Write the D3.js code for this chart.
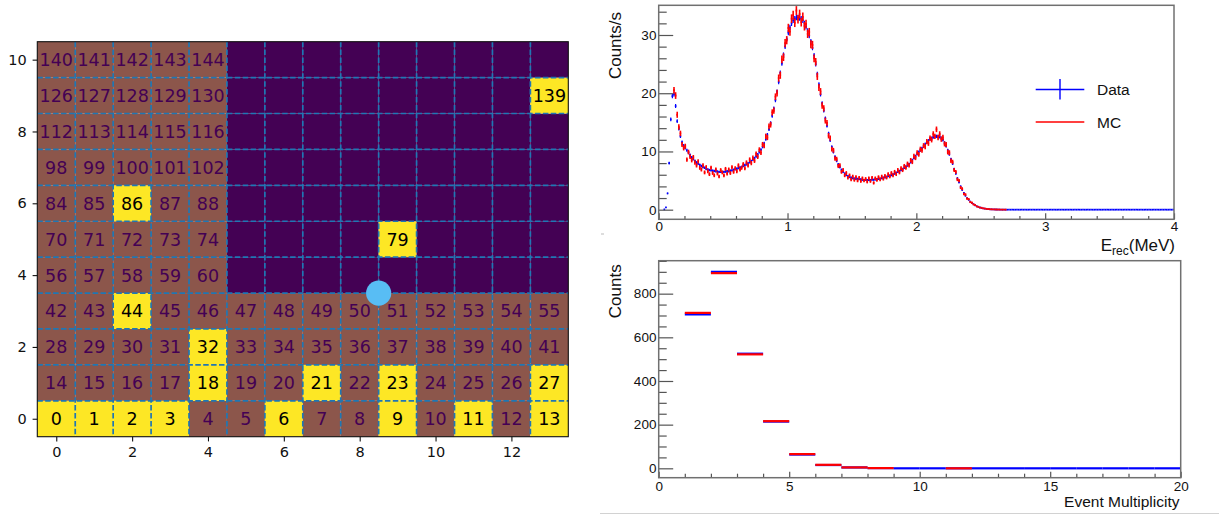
<!DOCTYPE html>
<html>
<head>
<meta charset="utf-8">
<script src="https://cdn.jsdelivr.net/npm/d3@7"></script>
<style>
  body { margin: 0; background: #fff; }
  svg { display: block; }
</style>
</head>
<body>
<svg id="chart" width="1219" height="515"></svg>
<script>
// ---------------- detector map ----------------
// channel state per row (row 0 at the bottom): 0 = off, 1 = live, 2 = hit
const cellStateRow0  = [2,2,2,2,1,1,2,1,1,2,1,2,1,2];
const cellStateRow1  = [1,1,1,1,2,1,1,2,1,2,1,1,1,2];
const cellStateRow2  = [1,1,1,1,2,1,1,1,1,1,1,1,1,1];
const cellStateRow3  = [1,1,2,1,1,1,1,1,1,1,1,1,1,1];
const cellStateRow4  = [1,1,1,1,1,0,0,0,0,0,0,0,0,0];
const cellStateRow5  = [1,1,1,1,1,0,0,0,0,2,0,0,0,0];
const cellStateRow6  = [1,1,2,1,1,0,0,0,0,0,0,0,0,0];
const cellStateRow7  = [1,1,1,1,1,0,0,0,0,0,0,0,0,0];
const cellStateRow8  = [1,1,1,1,1,0,0,0,0,0,0,0,0,0];
const cellStateRow9  = [1,1,1,1,1,0,0,0,0,0,0,0,0,2];
const cellStateRow10 = [1,1,1,1,1,0,0,0,0,0,0,0,0,0];
const cellRows = [cellStateRow0, cellStateRow1, cellStateRow2, cellStateRow3, cellStateRow4,
                  cellStateRow5, cellStateRow6, cellStateRow7, cellStateRow8, cellStateRow9, cellStateRow10];
const mapXTicks = [0, 2, 4, 6, 8, 10, 12];
const mapYTicks = [0, 2, 4, 6, 8, 10];
const sourcePos = [8.5, 3.5];

// ---------------- energy spectrum ----------------
const binWidth = 0.0125;           // MeV
const dataFirstBin = 3;
const dataRate = [
  0.05,0.4,2.8,8.0,15.5,19.5,19.8,17.8,15.2,13.9,12.6,11.6,11.0,10.6,10.2,9.8,9.4,9.0,8.7,8.4,
  8.1,7.9,7.7,7.5,7.3,7.2,7.0,6.9,6.8,6.75,6.7,6.65,6.6,6.55,6.5,6.5,6.5,6.5,6.55,6.6,
  6.6,6.7,6.75,6.85,6.95,7.05,7.15,7.25,7.35,7.5,7.65,7.8,7.95,8.15,8.35,8.6,8.85,9.15,9.5,9.9,
  10.3,10.8,11.4,12.1,12.9,13.8,14.9,16.1,17.4,18.8,20.3,21.9,23.5,25.1,26.6,28.0,29.3,30.4,31.3,32.0,
  32.5,32.8,33.0,33.0,32.9,32.8,32.5,32.0,31.4,30.7,29.9,28.9,27.8,26.5,25.0,23.3,21.5,19.8,18.3,17.0,
  15.7,14.4,13.1,11.9,10.8,9.9,9.1,8.4,7.8,7.3,6.85,6.5,6.2,5.95,5.75,5.6,5.5,5.4,5.35,5.3,
  5.3,5.25,5.2,5.15,5.1,5.1,5.1,5.1,5.1,5.15,5.15,5.2,5.25,5.3,5.35,5.4,5.5,5.55,5.65,5.75,
  5.85,5.95,6.05,6.2,6.35,6.5,6.65,6.8,7.0,7.2,7.4,7.6,7.85,8.15,8.5,8.85,9.2,9.55,9.9,10.2,
  10.55,10.9,11.25,11.55,11.85,12.1,12.3,12.45,12.55,12.6,12.6,12.5,12.3,12.0,11.5,10.9,10.2,9.5,8.7,7.9,
  7.0,6.2,5.4,4.7,4.0,3.4,2.9,2.4,2.0,1.7,1.4,1.15,0.95,0.75,0.6,0.48,0.38,0.3,0.23,0.18,
  0.14,0.1,0.08,0.06,0.05,0.04,0.03,0.02,0.02,0.01,0,0,0,0,0,0,0,0,0,0,
  0,0,0,0,0,0,0,0,0,0,0,0,0,0,0,0,0,0,0,0,
  0,0,0,0,0,0,0,0,0,0,0,0,0,0,0,0,0,0,0,0,
  0,0,0,0,0,0,0,0,0,0,0,0,0,0,0,0,0,0,0,0,
  0,0,0,0,0,0,0,0,0,0,0,0,0,0,0,0,0,0,0,0,
  0,0,0,0,0,0,0,0,0,0,0,0,0,0,0,0,0
];
const mcFirstBin = 9;
const mcRate = [
  20.5,19.6,16.3,14.2,13.1,11.2,10.6,10.9,8.6,9.9,9.1,8.5,9.0,8.1,7.6,8.3,7.2,6.9,7.6,6.4,
  7.3,6.6,6.1,7.2,6.3,5.9,6.9,6.2,5.7,6.8,6.4,5.9,7.0,6.2,6.9,6.3,7.3,6.5,7.1,6.6,
  7.6,6.9,7.2,7.8,7.1,8.1,7.6,8.6,8.0,8.9,8.4,9.6,9.1,10.3,9.8,11.2,11.0,12.6,12.4,14.3,
  14.6,16.7,17.0,19.4,20.0,22.6,23.1,25.8,26.2,28.6,29.1,31.2,30.6,32.8,33.4,32.1,34.2,32.7,33.6,32.2,
  33.1,31.5,31.9,30.2,30.5,28.4,28.3,26.0,25.4,22.9,21.0,20.3,17.9,17.4,15.3,14.9,12.7,12.3,10.4,10.2,
  8.8,8.7,7.5,7.6,6.5,6.8,5.9,6.3,5.5,5.9,5.2,5.7,5.1,5.6,5.0,5.5,4.9,5.4,5.0,5.3,
  4.8,5.4,4.9,5.5,4.6,5.4,5.1,5.6,5.2,5.7,5.3,5.8,5.5,6.1,5.7,6.3,5.9,6.5,6.1,6.8,
  6.4,7.1,6.8,7.5,7.2,7.9,7.6,8.5,8.2,9.2,8.9,9.8,9.5,10.4,10.2,11.0,10.8,11.7,11.4,12.3,
  12.0,13.0,12.6,13.8,12.4,13.0,12.1,12.4,11.3,11.2,9.9,9.8,8.4,8.2,6.8,6.5,5.2,5.0,3.8,3.6,
  2.7,2.6,1.9,1.8,1.3,1.2,0.9,0.8,0.55,0.5,0.35,0.33,0.22,0.2,0.14,0.12,0.09,0.07,0.05,0.05,
  0.03,0.03,0.02,0.02,0.01,0.01,0.01
];
const energyTicks = [0, 1, 2, 3, 4];
const rateTicks = [0, 10, 20, 30];

// ---------------- multiplicity ----------------
const multFirstBin = 1;
const multData = [705, 900, 525, 214, 63, 15, 4, 1, 0, 0, 0, 0, 0, 0, 0, 0, 0, 0, 0];
const multMC   = [712, 894, 522, 216, 65, 16, 4, 1, null, null, 0];
const multTicks = [0, 5, 10, 15, 20];
const countTicks = [0, 200, 400, 600, 800];

const legendLabels = ["Data", "MC"];

// =====================================================================
const svg = d3.select("#chart");
const DV = "'DejaVu Sans', sans-serif";
const HV = "'Liberation Sans', Arial, Helvetica, sans-serif";

// ---------- detector map ----------
const hx = d3.scaleLinear().domain([-0.5, 13.5]).range([37.3, 568.3]);
const hy = d3.scaleLinear().domain([-0.5, 10.5]).range([436.7, 41.7]);
const stateFill = ["#440154", "#8c564b", "#fde725"];
const stateText = [null, "#440154", "#000000"];

const cells = [];
cellRows.forEach((row, r) => row.forEach((s, c) => cells.push({ r, c, s, id: r * row.length + c })));

const gMap = svg.append("g");
gMap.selectAll("rect.cell").data(cells).join("rect")
  .attr("x", d => hx(d.c - 0.5))
  .attr("y", d => hy(d.r + 0.5))
  .attr("width", d => hx(d.c + 0.5) - hx(d.c - 0.5))
  .attr("height", d => hy(d.r - 0.5) - hy(d.r + 0.5))
  .attr("fill", d => stateFill[d.s]);

// dashed channel boundaries
const nCols = cellRows[0].length, nRows = cellRows.length;
const vBounds = d3.range(nCols - 1).map(k => k + 0.5);
const hBounds = d3.range(nRows - 1).map(k => k + 0.5);
gMap.selectAll("line.vb").data(vBounds).join("line")
  .attr("x1", d => hx(d)).attr("x2", d => hx(d))
  .attr("y1", hy(10.5)).attr("y2", hy(-0.5))
  .attr("stroke", "#1f77b4").attr("stroke-width", 1.7).attr("stroke-dasharray", "5.5,2.4");
gMap.selectAll("line.hb").data(hBounds).join("line")
  .attr("y1", d => hy(d)).attr("y2", d => hy(d))
  .attr("x1", hx(-0.5)).attr("x2", hx(13.5))
  .attr("stroke", "#1f77b4").attr("stroke-width", 1.7).attr("stroke-dasharray", "5.5,2.4");

gMap.selectAll("text.cl").data(cells.filter(d => d.s > 0)).join("text")
  .attr("x", d => hx(d.c))
  .attr("y", d => hy(d.r))
  .attr("dy", "0.37em")
  .attr("text-anchor", "middle")
  .attr("font-family", DV).attr("font-size", "17.5px")
  .attr("fill", d => stateText[d.s])
  .text(d => d.id);

// source position marker
gMap.append("circle")
  .attr("cx", hx(sourcePos[0])).attr("cy", hy(sourcePos[1]))
  .attr("r", 12.6).attr("fill", "#58bdf4");

// frame
gMap.append("rect")
  .attr("x", hx(-0.5)).attr("y", hy(10.5))
  .attr("width", hx(13.5) - hx(-0.5)).attr("height", hy(-0.5) - hy(10.5))
  .attr("fill", "none").attr("stroke", "#111").attr("stroke-width", 1.1);

const mapXAxis = gMap.append("g").attr("transform", `translate(0,${hy(-0.5)})`)
  .call(d3.axisBottom(hx).tickValues(mapXTicks).tickSize(4.7).tickPadding(5).tickFormat(d3.format("d")));
const mapYAxis = gMap.append("g").attr("transform", `translate(${hx(-0.5)},0)`)
  .call(d3.axisLeft(hy).tickValues(mapYTicks).tickSize(4.7).tickPadding(6).tickFormat(d3.format("d")));
[mapXAxis, mapYAxis].forEach(a => {
  a.select(".domain").remove();
  a.selectAll("line").attr("stroke", "#111").attr("stroke-width", 1.1);
  a.selectAll("text").attr("font-family", DV).attr("font-size", "14.5px").attr("fill", "#111");
});

// ---------- helpers for the two histogram pads ----------
function frameAxes(g, x, y, o) {
  const [x0, x1] = x.range(), [y0, y1] = y.range();
  const ax = g.append("g").attr("transform", `translate(0,${y0})`);
  ax.call(d3.axisBottom(x).tickValues(o.xMinor).tickSizeInner(-o.xMinorLen).tickSizeOuter(0).tickFormat(""));
  const axM = g.append("g").attr("transform", `translate(0,${y0})`);
  axM.call(d3.axisBottom(x).tickValues(o.xMajor).tickSizeInner(-o.xMajorLen).tickSizeOuter(0).tickPadding(o.xPad).tickFormat(d3.format("d")));
  const ay = g.append("g").attr("transform", `translate(${x0},0)`);
  ay.call(d3.axisLeft(y).tickValues(o.yMinor).tickSizeInner(-8).tickSizeOuter(0).tickFormat(""));
  const ayM = g.append("g").attr("transform", `translate(${x0},0)`);
  ayM.call(d3.axisLeft(y).tickValues(o.yMajor).tickSizeInner(-14.5).tickSizeOuter(0).tickPadding(2.3).tickFormat(d3.format("d")));
  [ax, axM, ay, ayM].forEach(a => {
    a.select(".domain").remove();
    a.selectAll("line").attr("stroke", "#555").attr("stroke-width", 1.2);
    a.selectAll("text").attr("font-family", HV).attr("font-size", "13.5px").attr("fill", "#111");
  });
  g.append("rect")
    .attr("x", x0).attr("y", y1).attr("width", x1 - x0).attr("height", y0 - y1)
    .attr("fill", "none").attr("stroke", "#707070").attr("stroke-width", 1.5);
}

function ticksBetween(lo, hi, step, skip) {
  const out = [];
  for (let v = lo; v <= hi + 1e-9; v += step) {
    const r = Math.round(v * 1000) / 1000;
    if (!skip.some(s => Math.abs(s - r) < 1e-6)) out.push(r);
  }
  return out;
}

// ---------- energy spectrum pad ----------
const ex = d3.scaleLinear().domain([0, 4]).range([658.7, 1174]);
const ey = d3.scaleLinear().domain([-1.65, 35.1]).range([219.3, 5.3]);
const gE = svg.append("g");

const dataBins = dataRate.map((v, k) => ({ lo: (dataFirstBin + k) * binWidth, v }));
const mcBins = mcRate.map((v, k) => ({ lo: (mcFirstBin + k) * binWidth, v }));

// Data: bin-width bars with small error bars
gE.append("g").selectAll("line").data(dataBins).join("line")
  .attr("x1", d => ex(d.lo)).attr("x2", d => ex(d.lo + binWidth))
  .attr("y1", d => ey(d.v)).attr("y2", d => ey(d.v))
  .attr("stroke", "#0000ff").attr("stroke-width", 1.8);
gE.append("g").selectAll("line").data(dataBins.filter(d => d.v > 0)).join("line")
  .attr("x1", d => ex(d.lo + binWidth / 2)).attr("x2", d => ex(d.lo + binWidth / 2))
  .attr("y1", d => ey(d.v - 0.08 * Math.sqrt(d.v))).attr("y2", d => ey(d.v + 0.08 * Math.sqrt(d.v)))
  .attr("stroke", "#0000ff").attr("stroke-width", 1.2);

// MC: bins with statistical error bars
gE.append("g").selectAll("line").data(mcBins).join("line")
  .attr("x1", d => ex(d.lo)).attr("x2", d => ex(d.lo + binWidth))
  .attr("y1", d => ey(d.v)).attr("y2", d => ey(d.v))
  .attr("stroke", "#ff0000").attr("stroke-width", 1.9);
gE.append("g").selectAll("line").data(mcBins).join("line")
  .attr("x1", d => ex(d.lo + binWidth / 2)).attr("x2", d => ex(d.lo + binWidth / 2))
  .attr("y1", d => ey(d.v - 0.13 * Math.sqrt(d.v))).attr("y2", d => ey(d.v + 0.13 * Math.sqrt(d.v)))
  .attr("stroke", "#ff0000").attr("stroke-width", 1.6);

frameAxes(gE, ex, ey, {
  xMajor: energyTicks, xMinor: ticksBetween(0, 4, 0.2, energyTicks), xMajorLen: 6, xMinorLen: 3.3, xPad: 2,
  yMajor: rateTicks, yMinor: ticksBetween(0, 34, 2, rateTicks)
});

gE.append("text")
  .attr("transform", "translate(621,12) rotate(-90)")
  .attr("text-anchor", "end")
  .attr("font-family", HV).attr("font-size", "17px").attr("fill", "#111")
  .text("Counts/s");

const eTitle = gE.append("text")
  .attr("x", 1175).attr("y", 250.5).attr("text-anchor", "end")
  .attr("font-family", HV).attr("font-size", "17px").attr("fill", "#111");
eTitle.append("tspan").text("E");
eTitle.append("tspan").attr("font-size", "12px").attr("dy", 4).text("rec");
eTitle.append("tspan").attr("dy", -4).text("(MeV)");

// legend
const lg = gE.append("g").attr("font-family", HV).attr("font-size", "15.5px").attr("fill", "#111");
lg.append("line").attr("x1", 1035.7).attr("x2", 1084.3).attr("y1", 89.5).attr("y2", 89.5)
  .attr("stroke", "#0000ff").attr("stroke-width", 1.4);
lg.append("line").attr("x1", 1060).attr("x2", 1060).attr("y1", 79).attr("y2", 99.5)
  .attr("stroke", "#0000ff").attr("stroke-width", 1.4);
lg.append("line").attr("x1", 1035.7).attr("x2", 1084.3).attr("y1", 122).attr("y2", 122)
  .attr("stroke", "#ff0000").attr("stroke-width", 1.4);
lg.append("text").attr("x", 1097).attr("y", 89.5).attr("dy", "0.36em").text(legendLabels[0]);
lg.append("text").attr("x", 1097).attr("y", 122).attr("dy", "0.36em").text(legendLabels[1]);

// ---------- multiplicity pad ----------
const mx = d3.scaleLinear().domain([0, 20]).range([658.7, 1180.7]);
const my = d3.scaleLinear().domain([-43, 951]).range([477.7, 260.7]);
const gM = svg.append("g");

const mData = multData.map((v, k) => ({ lo: multFirstBin + k, v }));
const mMC = multMC.map((v, k) => ({ lo: multFirstBin + k, v })).filter(d => d.v !== null);

gM.append("g").selectAll("line").data(mData).join("line")
  .attr("x1", d => mx(d.lo)).attr("x2", d => mx(d.lo + 1))
  .attr("y1", d => my(d.v)).attr("y2", d => my(d.v))
  .attr("stroke", "#0000ff").attr("stroke-width", 2.2);
gM.append("g").selectAll("line").data(mMC).join("line")
  .attr("x1", d => mx(d.lo)).attr("x2", d => mx(d.lo + 1))
  .attr("y1", d => my(d.v)).attr("y2", d => my(d.v))
  .attr("stroke", "#ff0000").attr("stroke-width", 2.2);

frameAxes(gM, mx, my, {
  xMajor: multTicks, xMinor: ticksBetween(0, 20, 1, multTicks), xMajorLen: 6, xMinorLen: 4, xPad: 3.5,
  yMajor: countTicks, yMinor: ticksBetween(0, 950, 50, countTicks)
});

gM.append("text")
  .attr("transform", "translate(621,264.3) rotate(-90)")
  .attr("text-anchor", "end")
  .attr("font-family", HV).attr("font-size", "17px").attr("fill", "#111")
  .text("Counts");

gM.append("text")
  .attr("x", 1179.5).attr("y", 507).attr("text-anchor", "end")
  .attr("font-family", HV).attr("font-size", "15.5px").attr("fill", "#111")
  .text("Event Multiplicity");

// pad edges
svg.append("line").attr("x1", 600).attr("x2", 1219).attr("y1", 513.5).attr("y2", 513.5)
  .attr("stroke", "#d2d2d2").attr("stroke-width", 1);
svg.append("line").attr("x1", 601).attr("x2", 604).attr("y1", 234).attr("y2", 234)
  .attr("stroke", "#bbb").attr("stroke-width", 1);
</script>
</body>
</html>
